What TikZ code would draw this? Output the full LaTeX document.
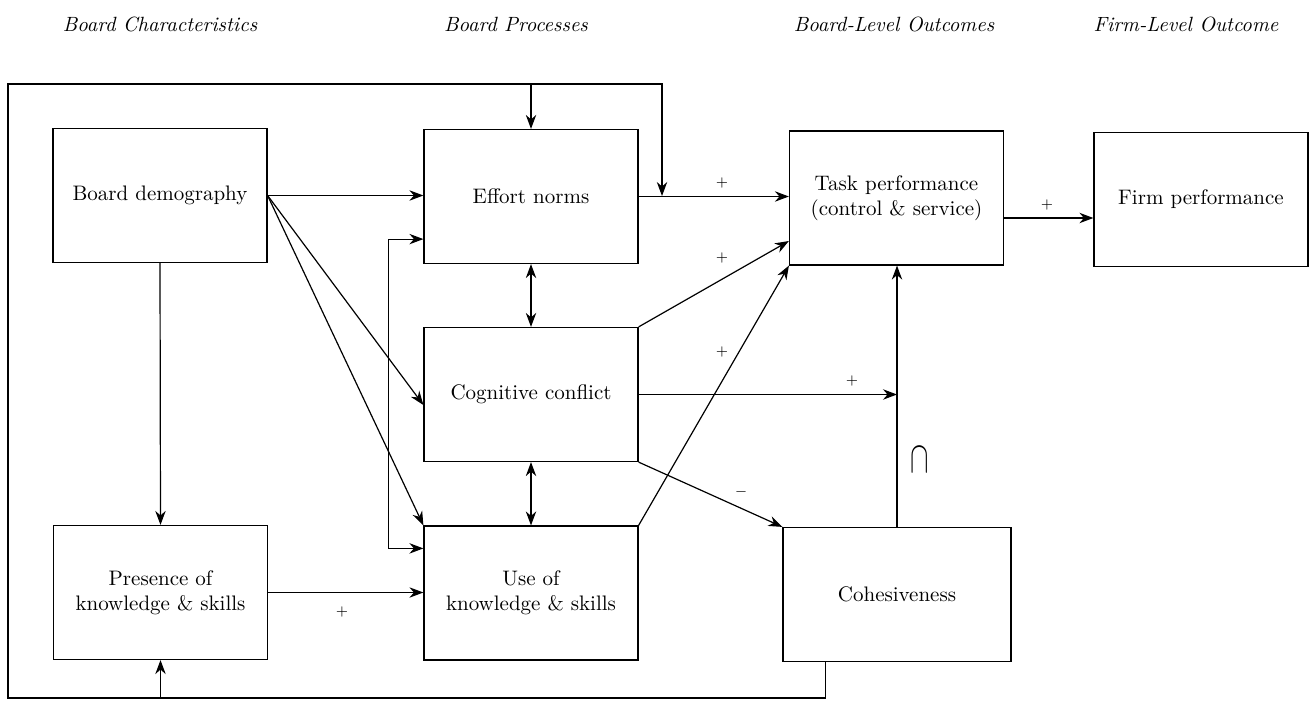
\documentclass[tikz,border=0pt]{standalone}
\usepackage{graphicx}
\usetikzlibrary{arrows.meta,calc}
\begin{document}
\begin{tikzpicture}[x=0.5pt,y=-0.5pt,
  box/.style={draw,line width=0.6pt,minimum width=107pt,minimum height=67pt,align=center,inner sep=2pt,font=\fontsize{10.5}{12.5}\selectfont},
  conn/.style={line width=0.6pt,-{Stealth[length=7pt,width=5.2pt]}},
  conntwo/.style={line width=0.6pt,{Stealth[length=7pt,width=5.2pt]}-{Stealth[length=7pt,width=5.2pt]}},
  hdr/.style={font=\fontsize{10.3}{12}\selectfont\itshape},
  sign/.style={font=\fontsize{7.5}{9}\selectfont,inner sep=0pt}]
\useasboundingbox (0,0) rectangle (1309,700);

% headers
\node[hdr] (h1) at (160,24) {Board Characteristics};
\node[hdr] (h2) at (516,24) {Board Processes};
\node[hdr] (h3) at (894,24) {Board-Level Outcomes};
\node[hdr] (h4) at (1186,24) {Firm-Level Outcome};

% boxes
\node[box] (bd) at (160,195.5) {Board demography};
\node[box] (en) at (531,196.5) {Effort norms};
\node[box] (cc) at (531,394.5) {Cognitive conflict};
\node[box] (uk) at (531,593) {Use of\\knowledge \& skills};
\node[box] (pk) at (160.5,592.5) {Presence of\\knowledge \& skills};
\node[box] (tp) at (896.5,198) {Task performance\\(control \& service)};
\node[box] (fp) at (1201,199.5) {Firm performance};
\node[box,minimum width=114pt] (co) at (897,594.5) {Cohesiveness};

% frame coordinates
\coordinate (fbl) at (8,698);
\coordinate (ftl) at (8,84);
\coordinate (fk) at (662,196);

% connectors
\draw[conn] (bd.east) -- (bd.east -| en.west);
\draw[conn] (bd.east) -- ([yshift=-5.25pt]cc.west);
\draw[conn] (bd.east) -- (uk.north west);
\draw[conn] (bd.south) -- (pk.north);
\draw[conn] (pk.east) -- (pk.east -| uk.west);
\draw[conntwo] ([yshift=12.5pt]en.south west) -- ++(-17.5pt,0) |- ([yshift=-11.5pt]uk.north west);
\draw[conntwo] (en.south) -- (cc.north);
\draw[conntwo] (cc.south) -- (uk.north);
\draw[conn] (en.east) -- (en.east -| tp.west);
\draw[conn] (cc.north east) -- ([yshift=-21.5pt]tp.west);
\draw[conn] (uk.north east) -- (tp.south west);
\draw[conn] (cc.east) -- (cc.east -| co.north);
\draw[conn] (cc.south east) -- (co.north west);
\draw[conn] (co.north) -- (co.north |- tp.south);
\draw[conn] ([yshift=-10pt]tp.east) -- ([yshift=-10pt]tp.east -| fp.west);

% feedback frame
\draw[conn] ([xshift=21.5pt]co.south west) |- (fbl) -- (ftl) -| (fk);
\draw[conn] (pk.south |- fbl) -- (pk.south);
\draw[conn] (en.north |- ftl) -- (en.north);

% signs
\node[sign] (s1) at (722,183) {$+$};
\node[sign] (s2) at (722,258) {$+$};
\node[sign] (s3) at (722,352) {$+$};
\node[sign] (s4) at (852,381) {$+$};
\node[sign] (s5) at (741,492) {$-$};
\node[sign] (s6) at (1047,205) {$+$};
\node[sign] (s7) at (342,612) {$+$};
\node[font=\fontsize{16}{18}\selectfont,inner sep=0pt] (s8) at (920,460) {\scalebox{0.8}[1.3]{$\cap$}};
\end{tikzpicture}
\end{document}
